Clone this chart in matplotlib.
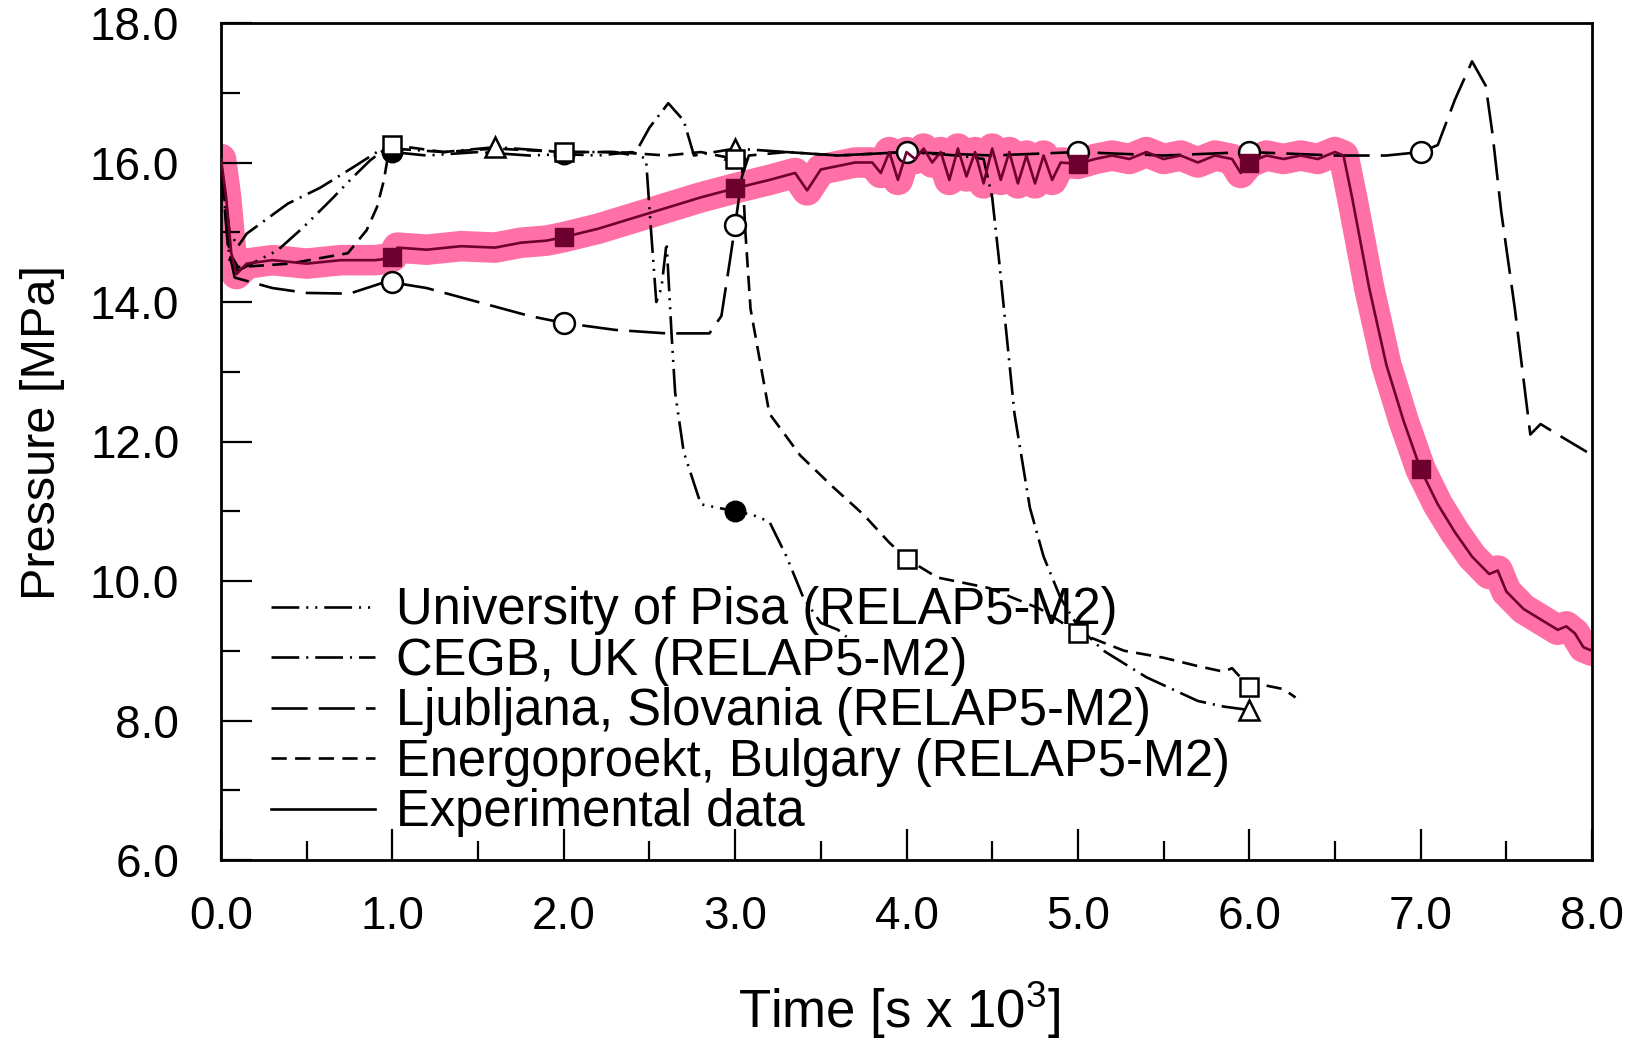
import numpy as np
import matplotlib
matplotlib.use("Agg")
import matplotlib.pyplot as plt

plt.rcParams['font.family'] = ['Liberation Sans', 'DejaVu Sans']
plt.rcParams['mathtext.fontset'] = 'custom'
plt.rcParams['mathtext.rm'] = 'Liberation Sans'
plt.rcParams['mathtext.default'] = 'regular'
plt.rcParams['lines.scale_dashes'] = False

# ---------------- data (time in 10^3 s, pressure in MPa) ----------------
labels = ["University of Pisa (RELAP5-M2)",
          "CEGB, UK (RELAP5-M2)",
          "Ljubljana, Slovania (RELAP5-M2)",
          "Energoproekt, Bulgary (RELAP5-M2)",
          "Experimental data"]

pisa_t = [0.0, 0.05, 0.1, 0.33, 0.48, 0.64, 0.77, 0.87, 0.95, 1.0, 1.2, 1.5, 1.8, 2.0,
          2.2, 2.4, 2.48, 2.51, 2.54, 2.57, 2.6, 2.63, 2.65, 2.7, 2.8, 2.9, 3.0, 3.1,
          3.2, 3.3, 3.4, 3.5, 3.6, 3.65]
pisa_p = [16.0, 14.6, 14.45, 14.74, 15.07, 15.46, 15.79, 16.03, 16.18, 16.15, 16.1, 16.15,
          16.1, 16.12, 16.1, 16.15, 16.05, 15.0, 14.0, 14.2, 14.85, 13.5, 12.7, 11.85,
          11.1, 11.05, 11.0, 10.95, 10.85, 10.35, 9.75, 9.4, 9.3, 9.2]
pisa_mk = [1.0, 2.0, 3.0]

cegb_t = [0.0, 0.05, 0.1, 0.15, 0.39, 0.58, 0.77, 0.91, 1.0, 1.3, 1.6, 2.0, 2.3, 2.41,
          2.5, 2.61, 2.7, 2.76, 3.0, 3.3, 3.6, 4.0, 4.3, 4.45, 4.5, 4.54, 4.63, 4.72,
          4.8, 4.9, 5.0, 5.15, 5.4, 5.7, 5.85, 6.0]
cegb_p = [16.0, 15.0, 14.8, 14.98, 15.41, 15.64, 15.93, 16.15, 16.2, 16.15, 16.22, 16.15,
          16.15, 16.1, 16.5, 16.85, 16.6, 16.1, 16.2, 16.15, 16.1, 16.15, 16.1, 16.05,
          15.5, 14.6, 12.4, 11.05, 10.35, 9.75, 9.35, 9.0, 8.62, 8.28, 8.2, 8.15]
cegb_mk = [1.6, 3.0, 6.0]

ljub_t = [0.0, 0.04, 0.08, 0.3, 0.5, 0.75, 0.95, 1.0, 1.2, 1.5, 1.8, 2.0, 2.3, 2.6,
          2.85, 2.92, 2.97, 3.0, 3.04, 3.08, 3.3, 3.6, 4.0, 4.5, 5.0, 5.5, 6.0, 6.5,
          6.8, 7.0, 7.1, 7.2, 7.3, 7.38, 7.42, 7.47, 7.55, 7.64, 7.7, 7.8, 7.97]
ljub_p = [16.0, 14.8, 14.35, 14.2, 14.13, 14.12, 14.28, 14.28, 14.2, 14.0, 13.8, 13.7,
          13.6, 13.55, 13.55, 13.8, 14.6, 15.1, 15.8, 16.1, 16.15, 16.1, 16.15, 16.1,
          16.15, 16.1, 16.15, 16.1, 16.1, 16.15, 16.25, 16.9, 17.45, 17.1, 16.4, 15.3,
          13.9, 12.1, 12.25, 12.1, 11.85]
ljub_mk = [1.0, 2.0, 3.0, 4.0, 5.0, 6.0, 7.0]

energ_t = [0.0, 0.05, 0.1, 0.4, 0.74, 0.85, 0.91, 0.95, 0.97, 1.0, 1.3, 1.6, 2.0, 2.3,
           2.6, 2.8, 3.0, 3.04, 3.06, 3.09, 3.2, 3.38, 3.57, 3.75, 3.9, 4.0, 4.18, 4.48,
           4.78, 5.0, 5.27, 5.5, 5.7, 5.85, 5.9, 6.0, 6.1, 6.2, 6.27]
energ_p = [16.0, 14.7, 14.5, 14.55, 14.7, 15.03, 15.36, 15.74, 16.03, 16.25, 16.15, 16.2,
           16.15, 16.15, 16.1, 16.15, 16.05, 16.0, 15.0, 13.9, 12.4, 11.8, 11.35, 10.95,
           10.55, 10.32, 10.05, 9.9, 9.6, 9.26, 9.0, 8.9, 8.78, 8.7, 8.75, 8.48, 8.5,
           8.45, 8.33]
energ_mk = [1.0, 2.0, 3.0, 4.0, 5.0, 6.0]

exp_t = [0.0, 0.03, 0.06, 0.09, 0.15, 0.3, 0.5, 0.7, 0.9, 0.97, 1.0, 1.03, 1.2, 1.4, 1.6,
         1.75, 1.9, 2.0, 2.2, 2.4, 2.6, 2.8, 3.0, 3.2, 3.35, 3.42, 3.5, 3.6, 3.7, 3.8,
         3.85, 3.9, 3.95, 4.0, 4.05, 4.1, 4.15, 4.2, 4.25, 4.3, 4.35, 4.4, 4.45, 4.5,
         4.55, 4.6, 4.65, 4.7, 4.75, 4.8, 4.85, 4.9, 5.0, 5.1, 5.2, 5.3, 5.4, 5.5, 5.6,
         5.7, 5.8, 5.9, 5.95, 6.0, 6.1, 6.2, 6.3, 6.4, 6.5, 6.55, 6.6, 6.7, 6.8, 6.9,
         7.0, 7.1, 7.2, 7.3, 7.4, 7.45, 7.5, 7.6, 7.7, 7.8, 7.85, 7.9, 7.95, 8.0]
exp_p = [16.05, 15.5, 14.7, 14.4, 14.55, 14.6, 14.55, 14.6, 14.6, 14.62, 14.65, 14.78,
         14.75, 14.8, 14.78, 14.85, 14.88, 14.93, 15.05, 15.2, 15.35, 15.5, 15.63, 15.75,
         15.85, 15.6, 15.9, 15.95, 16.0, 16.0, 15.85, 16.15, 15.75, 16.15, 16.05, 16.2,
         16.0, 16.15, 15.75, 16.2, 15.8, 16.15, 15.7, 16.2, 15.75, 16.15, 15.7, 16.1,
         15.7, 16.1, 15.75, 16.0, 15.98, 16.05, 16.1, 16.05, 16.15, 16.05, 16.1, 16.0,
         16.1, 16.05, 15.85, 16.0, 16.1, 16.05, 16.1, 16.05, 16.15, 16.1, 15.5, 14.2,
         13.1, 12.3, 11.6, 11.1, 10.7, 10.35, 10.1, 10.15, 9.85, 9.6, 9.45, 9.3, 9.35,
         9.25, 9.05, 9.0]
exp_mk = [1.0, 2.0, 3.0, 5.0, 6.0, 7.0]

x_ticks = [0, 1, 2, 3, 4, 5, 6, 7, 8]
x_ticklabels = ["0.0", "1.0", "2.0", "3.0", "4.0", "5.0", "6.0", "7.0", "8.0"]
y_ticks = [6, 8, 10, 12, 14, 16, 18]
y_ticklabels = ["6.0", "8.0", "10.0", "12.0", "14.0", "16.0", "18.0"]

# ---------------- styles ----------------
ls_pisa = (0, (20, 5, 1.5, 5, 1.5, 5))
ls_cegb = (0, (20, 5, 1.5, 5))
ls_ljub = (0, (26, 8))
ls_energ = (0, (11, 6))

fig = plt.figure(figsize=(16.34, 10.41), dpi=100)
ax = fig.add_axes([221 / 1634, 1 - 860 / 1041, (1592 - 221) / 1634, (860 - 23) / 1041])

EXPC = "#6e0030"
PINK = "#ff70a6"


def mk_idx(t, mk):
    t = np.asarray(t)
    return [int(np.argmin(np.abs(t - m))) for m in mk]


# pink highlight under experimental data
ax.plot(exp_t, exp_p, color=PINK, lw=22, solid_capstyle='round',
        solid_joinstyle='round', zorder=1)

series = [
    (pisa_t, pisa_p, ls_pisa, labels[0], pisa_mk, dict(marker='o', mfc='black', mec='black', ms=14)),
    (cegb_t, cegb_p, ls_cegb, labels[1], cegb_mk, dict(marker='^', mfc='white', mec='black', ms=14)),
    (ljub_t, ljub_p, ls_ljub, labels[2], ljub_mk, dict(marker='o', mfc='white', mec='black', ms=15)),
    (energ_t, energ_p, ls_energ, labels[3], energ_mk, dict(marker='s', mfc='white', mec='black', ms=13)),
]
handles = []
for t, p, ls, lab, mk, mstyle in series:
    h, = ax.plot(t, p, color='black', lw=1.9, linestyle=ls, label=lab, zorder=3)
    handles.append(h)
    idx = mk_idx(t, mk)
    ax.plot(np.asarray(t)[idx], np.asarray(p)[idx], linestyle='none', mew=1.8,
            zorder=4, **mstyle)

h, = ax.plot(exp_t, exp_p, color=EXPC, lw=1.9, label=labels[4], zorder=5)
idx = mk_idx(exp_t, exp_mk)
ax.plot(np.asarray(exp_t)[idx], np.asarray(exp_p)[idx], linestyle='none',
        marker='s', ms=13, mfc=EXPC, mec=EXPC, zorder=6)
legend_handle_exp = ax.plot([], [], color='black', lw=1.9)[0]
handles.append(legend_handle_exp)

ax.set_xlim(0, 8)
ax.set_ylim(6, 18)
ax.set_xticks(x_ticks)
ax.set_xticklabels(x_ticklabels)
ax.set_yticks(y_ticks)
ax.set_yticklabels(y_ticklabels)
ax.set_xticks(np.arange(0.5, 8, 1.0), minor=True)
ax.set_yticks(np.arange(7, 18, 2.0), minor=True)
ax.tick_params(axis='both', which='major', direction='in', length=22, width=1.6,
               labelsize=33, top=False, right=False)
ax.tick_params(axis='both', which='minor', direction='in', length=14, width=1.6,
               top=False, right=False)
ax.tick_params(axis='x', which='major', pad=25)
ax.tick_params(axis='y', which='major', pad=30)
for s in ax.spines.values():
    s.set_linewidth(2.0)

ax.set_ylabel("Pressure [MPa]", fontsize=35)
ax.yaxis.set_label_coords(-0.114, 0.511)
ax.set_xlabel("Time [s x 10$^{3}$]", fontsize=38)
ax.xaxis.set_label_coords(0.4945, -0.143)

leg = ax.legend(handles, labels, loc='upper left', bbox_to_anchor=(0.0365, 0.327),
                frameon=False, fontsize=36.5, borderpad=0, borderaxespad=0,
                handlelength=2.05, handletextpad=0.42, labelspacing=0.03)

fig.savefig("out.png", dpi=100)
